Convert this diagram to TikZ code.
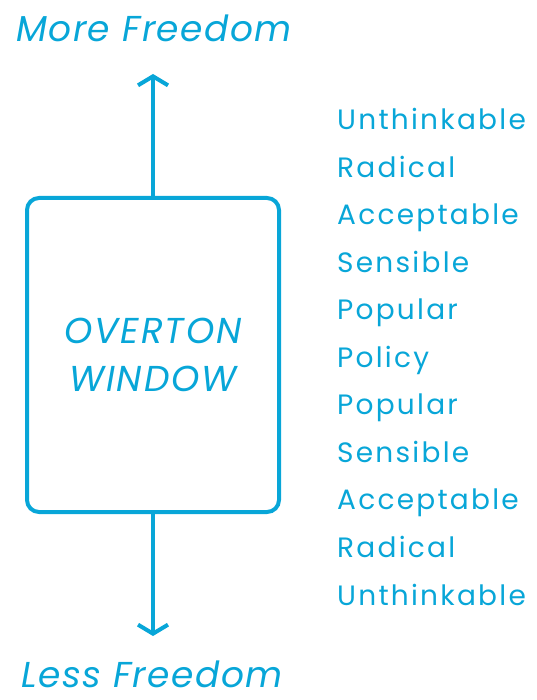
\documentclass[tikz,border=0pt]{standalone}
\usepackage{fontspec}
\setmainfont{Poppins}
\usetikzlibrary{arrows.meta,positioning}
\definecolor{overblue}{RGB}{8,166,216}
\tikzset{>={Straight Barb[length=9pt,width=30pt]}}

\begin{document}
\begin{tikzpicture}[x=1pt, y=-1pt,
    every node/.style={text=overblue, inner sep=0pt},
    winbox/.style={draw=overblue, line width=4pt, rounded corners=12pt,
                   minimum width=252pt, minimum height=314pt, align=center},
    heading/.style={anchor=base, font=\fontsize{36}{40}\selectfont\itshape\addfontfeature{LetterSpace=4}},
    level/.style={anchor=base west, font=\fontsize{28}{32}\selectfont\addfontfeature{LetterSpace=8}},
    arr/.style={->, overblue, line width=4pt}]

  \useasboundingbox (0,0) rectangle (537,700);

  \node[winbox, font=\fontsize{36}{48}\selectfont\itshape\addfontfeature{LetterSpace=5}] (win) at (153,355) {OVERTON\\WINDOW};

  \node[heading] (more) at (154,42) {More Freedom};
  \node[heading] (less) at (152,687) {Less Freedom};

  \coordinate (uptip) at (153,74);
  \coordinate (downtip) at (153,636);

  \draw[arr] (win.north) -- (uptip);
  \draw[arr] (win.south) -- (downtip);

  % levels from top to bottom
  \foreach \w [count=\i] in {Unthinkable,Radical,Acceptable,Sensible,Popular,Policy,Popular,Sensible,Acceptable,Radical,Unthinkable}
    \node[level] (lvl\i) at (337, 82+47.55*\i) {\w};

\end{tikzpicture}
\end{document}
